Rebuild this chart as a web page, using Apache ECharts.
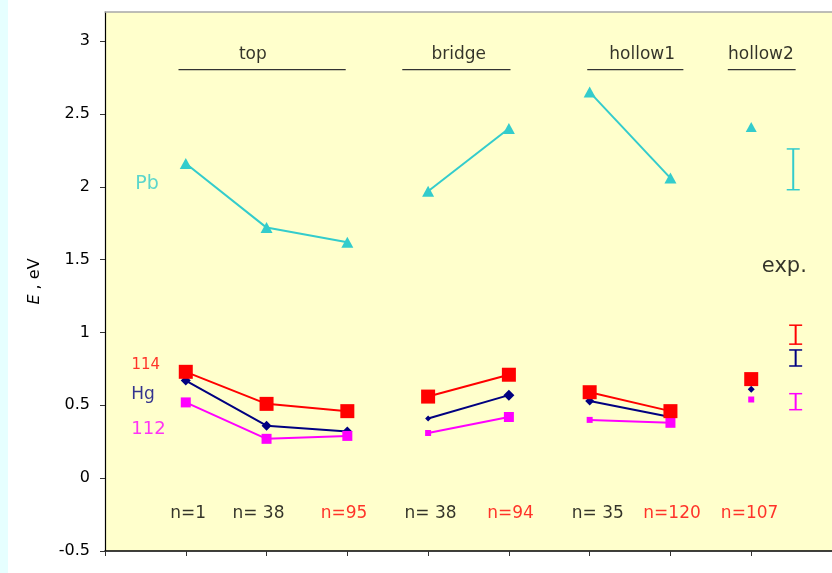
<!DOCTYPE html>
<html>
<head>
<meta charset="utf-8">
<script src="https://cdn.jsdelivr.net/npm/echarts@6/dist/echarts.min.js"></script>
<style>
  html, body { margin: 0; padding: 0; background: #ffffff; }
  #chart { width: 832px; height: 573px; }
</style>
</head>
<body>
<div id="chart"></div>
<script>
// Adsorption energies of Pb, element 114, Hg and element 112 on gold clusters,
// one x slot per (site, cluster) pair.
const siteX = [1, 2, 3, 4, 5, 6, 7, 8];
const siteGroup = [0, 0, 0, 1, 1, 2, 2, 3];
const groupNames = ['top', 'bridge', 'hollow1', 'hollow2'];
const groupSpan = [[0.91, 2.98], [3.68, 5.02], [5.97, 7.16], [7.71, 8.55]];
const groupLabelX = [1.83, 4.38, 6.65, 8.12];
const groupLabelY = 2.91;
const groupLineY = 2.805;

const clusterSizes = ['n=1', 'n= 38', 'n=95', 'n= 38', 'n=94', 'n= 35', 'n=120', 'n=107'];
const clusterSizeX = [1.03, 1.9, 2.96, 4.03, 5.02, 6.1, 7.02, 7.98];
const clusterLarge = [false, false, true, false, true, false, true, true];
const clusterSizeY = -0.24;

const pbE  = [2.16, 1.72, 1.62, 1.97, 2.40, 2.65, 2.06, 2.41];
const e114 = [0.73, 0.51, 0.46, 0.56, 0.71, 0.59, 0.46, 0.68];
const hgE  = [0.67, 0.36, 0.32, 0.41, 0.57, 0.53, 0.42, 0.61];
const e112 = [0.52, 0.27, 0.29, 0.31, 0.42, 0.40, 0.38, 0.54];

// experimental ranges: Pb, 114, Hg, 112
const expX    = [8.52, 8.55, 8.55, 8.55];
const expLow  = [1.98, 0.92, 0.77, 0.47];
const expHigh = [2.26, 1.05, 0.88, 0.58];
const expLabel = 'exp.';
const expLabelPos = [8.41, 1.45];

const yTicks = [-0.5, 0, 0.5, 1, 1.5, 2, 2.5, 3];
const xTicks = [0, 1, 2, 3, 4, 5, 6, 7, 8];

// element names written beside the curves
const elementNames = ['Pb', '114', 'Hg', '112'];
const elementNamePos = [[0.52, 2.02], [0.505, 0.777], [0.47, 0.577], [0.538, 0.338]];

// ---- styling ----
const FONT = 'DejaVu Sans';
const INK = '#000000';
const CYAN = '#33CCCC', RED = '#FF0000', NAVY = '#000080', MAGENTA = '#FF00FF';
const elementStyles = [
  { values: pbE,  color: CYAN,    symbol: 'triangle', sizes: [[12, 11], [12, 11], [12, 11], [12, 11], [12, 11], [12, 11], [12, 11], [11, 10]] },
  { values: hgE,  color: NAVY,    symbol: 'diamond',  sizes: [10, 10, 10, 6, 11, 9, 10, 7] },
  { values: e112, color: MAGENTA, symbol: 'rect',     sizes: [10, 10, 10, 6, 10, 6, 10, 6] },
  { values: e114, color: RED,     symbol: 'rect',     sizes: [14, 14, 14, 14, 14, 14, 14, 14] }
];
const nameStyles = [
  { color: CYAN, size: 19 },
  { color: RED, size: 15 },
  { color: NAVY, size: 17 },
  { color: MAGENTA, size: 18 }
];
const expColors = [CYAN, RED, NAVY, MAGENTA];

const series = [];

// one line per site group so the groups stay unconnected
elementStyles.forEach(function (el) {
  groupNames.forEach(function (g, gi) {
    const data = [];
    siteX.forEach(function (x, i) {
      if (siteGroup[i] === gi) {
        data.push({ value: [x, el.values[i]], symbolSize: el.sizes[i] });
      }
    });
    series.push({
      type: 'line',
      data: data,
      symbol: el.symbol,
      showSymbol: true,
      lineStyle: { color: el.color, width: 2 },
      itemStyle: { color: el.color },
      z: 3
    });
  });
});

// experimental error bars
series.push({
  type: 'custom',
  z: 4,
  data: expX.map(function (x, i) {
    return { value: [x, expLow[i], expHigh[i]], itemStyle: { color: expColors[i] } };
  }),
  renderItem: function (params, api) {
    const x = api.value(0);
    const lo = api.coord([x, api.value(1)]);
    const hi = api.coord([x, api.value(2)]);
    const half = 6.5;
    const c = api.visual('color');
    return {
      type: 'group',
      children: [
        { type: 'line', shape: { x1: lo[0], y1: lo[1], x2: hi[0], y2: hi[1] }, style: { stroke: c, lineWidth: 2 } },
        { type: 'line', shape: { x1: hi[0] - half, y1: hi[1], x2: hi[0] + half, y2: hi[1] }, style: { stroke: c, lineWidth: 1.5 } },
        { type: 'line', shape: { x1: lo[0] - half, y1: lo[1], x2: lo[0] + half, y2: lo[1] }, style: { stroke: c, lineWidth: 1.5 } }
      ]
    };
  }
});

// site group underlines
series.push({
  type: 'custom',
  z: 2,
  data: groupSpan.map(function (s) { return [s[0], s[1], groupLineY]; }),
  renderItem: function (params, api) {
    const a = api.coord([api.value(0), api.value(2)]);
    const b = api.coord([api.value(1), api.value(2)]);
    return { type: 'line', shape: { x1: a[0], y1: a[1], x2: b[0], y2: b[1] }, style: { stroke: '#333333', lineWidth: 1.2 } };
  }
});

function textSeries(items) {
  return {
    type: 'scatter',
    symbolSize: 0,
    silent: true,
    z: 5,
    data: items.map(function (it) {
      return {
        value: it.pos,
        label: {
          show: true,
          position: 'inside',
          formatter: it.text,
          color: it.color,
          fontSize: it.size,
          fontFamily: FONT,
          align: 'center',
          verticalAlign: 'middle'
        }
      };
    })
  };
}

series.push(textSeries(groupNames.map(function (g, i) {
  return { pos: [groupLabelX[i], groupLabelY], text: g, color: INK, size: 17 };
})));
series.push(textSeries(clusterSizes.map(function (t, i) {
  return { pos: [clusterSizeX[i], clusterSizeY], text: t, color: clusterLarge[i] ? RED : INK, size: 17 };
})));
series.push(textSeries(elementNames.map(function (t, i) {
  return { pos: elementNamePos[i], text: t, color: nameStyles[i].color, size: nameStyles[i].size };
})));
series.push(textSeries([{ pos: expLabelPos, text: expLabel, color: INK, size: 21 }]));

const chart = echarts.init(document.getElementById('chart'), null, { renderer: 'canvas' });
chart.setOption({
  animation: false,
  backgroundColor: '#ffffff',
  textStyle: { fontFamily: FONT },
  graphic: [{
    type: 'rect',
    left: 0, top: 0,
    shape: { width: 8, height: 573 },
    style: { fill: '#E6FFFF' },
    z: -10
  }],
  grid: {
    left: 105, top: 12, right: -4, bottom: 22,
    show: true,
    backgroundColor: '#FFFFCC',
    borderWidth: 0
  },
  xAxis: [{
    type: 'value',
    min: 0, max: 9, interval: 1,
    position: 'bottom',
    axisLine: { show: true, onZero: false, lineStyle: { color: '#000000', width: 1.5 } },
    axisTick: { show: true, length: 5, customValues: xTicks, lineStyle: { color: '#333333' } },
    axisLabel: { show: false },
    splitLine: { show: false }
  }, {
    type: 'value',
    min: 0, max: 9,
    position: 'top',
    axisLine: { show: true, onZero: false, lineStyle: { color: '#A8A8A8', width: 1.5 } },
    axisTick: { show: false },
    axisLabel: { show: false },
    splitLine: { show: false }
  }],
  yAxis: {
    type: 'value',
    min: -0.5, max: 3.2, interval: 0.5,
    axisLine: { show: true, onZero: false, lineStyle: { color: '#000000', width: 1.2 } },
    axisTick: { show: true, length: 5, customValues: yTicks, lineStyle: { color: '#333333' } },
    axisLabel: {
      customValues: yTicks,
      margin: 15,
      fontSize: 16,
      fontFamily: FONT,
      color: INK
    },
    splitLine: { show: false },
    name: '{it|E} , eV',
    nameLocation: 'middle',
    nameRotate: 90,
    nameGap: 62,
    nameTextStyle: {
      fontSize: 16,
      fontFamily: FONT,
      color: INK,
      rich: { it: { fontStyle: 'italic', fontSize: 16, fontFamily: FONT, color: INK } }
    }
  },
  series: series
});
</script>
</body>
</html>
